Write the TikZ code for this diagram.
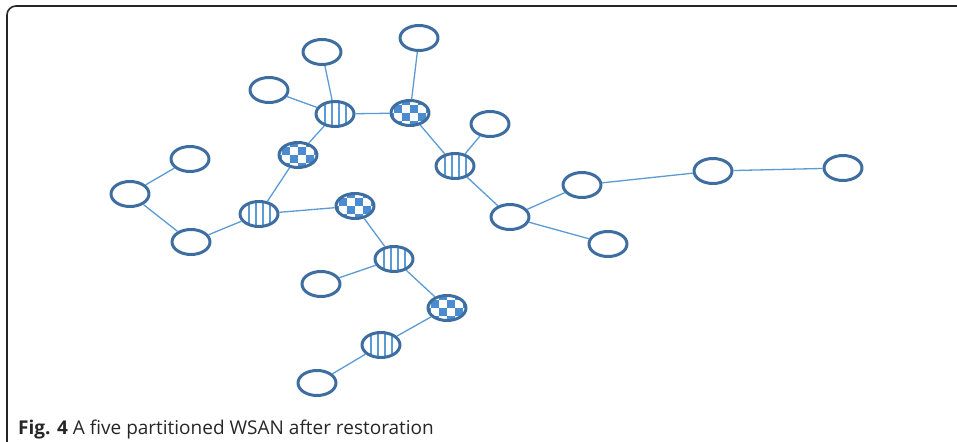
\documentclass[tikz,border=0pt]{standalone}
\usepackage{fontspec}
\setmainfont{Open Sans}
\usepackage{tikz}
\usetikzlibrary{shapes.geometric}
\definecolor{rim}{RGB}{62,110,160}
\definecolor{wire}{RGB}{91,155,213}
\definecolor{tile}{RGB}{75,140,208}
\tikzstyle{plain}=[ellipse,draw=rim,line width=3bp,fill=white,minimum width=38bp,minimum height=25bp,inner sep=0pt]
\tikzstyle{striped}=[plain,path picture={
  \foreach \x in {-10.5,-3.5,3.5,10.5}
    \draw[wire,line width=2bp,shift={(path picture bounding box.center)}] (\x bp,-15bp) -- (\x bp,15bp);}]
\tikzstyle{checked}=[plain,path picture={
  \foreach \i in {0,...,5}
    \foreach \j in {0,...,3}{
      \pgfmathparse{int(mod(\i+\j,2))}
      \ifnum\pgfmathresult=1
        \fill[tile,shift={(path picture bounding box.center)}] (-24bp+8*\i bp,-16bp+8*\j bp) rectangle ++(8bp,8bp);
      \fi}}]
\tikzstyle{link}=[draw=wire,line width=1.3bp]

\begin{document}
\begin{tikzpicture}[line join=bevel]
	\useasboundingbox (0,0) rectangle (957bp,442bp);
	%% frame
	\draw[line width=1.6bp,draw=black!85,rounded corners=9bp] (7bp,0bp) -- (7bp,436bp) -- (957bp,436bp);
	%% nodes
	\node (t1) at (322bp,390bp) [plain] {};
	\node (t2) at (419bp,404bp) [plain] {};
	\node (t3) at (269bp,352bp) [plain] {};
	\node (s1) at (335bp,328bp) [striped] {};
	\node (c1) at (410bp,329bp) [checked] {};
	\node (t4) at (490bp,318bp) [plain] {};
	\node (c2) at (298bp,287bp) [checked] {};
	\node (s2) at (455bp,276bp) [striped] {};
	\node (t5) at (190bp,283bp) [plain] {};
	\node (t6) at (130bp,248bp) [plain] {};
	\node (t7) at (582bp,257bp) [plain] {};
	\node (t8) at (713bp,271bp) [plain] {};
	\node (t9) at (843bp,274bp) [plain] {};
	\node (s3) at (259bp,228bp) [striped] {};
	\node (c3) at (355bp,236bp) [checked] {};
	\node (t10) at (510bp,225bp) [plain] {};
	\node (t11) at (191bp,200bp) [plain] {};
	\node (t12) at (608bp,198bp) [plain] {};
	\node (s4) at (394bp,183bp) [striped] {};
	\node (t13) at (321bp,158bp) [plain] {};
	\node (c4) at (447bp,134bp) [checked] {};
	\node (s5) at (381bp,97bp) [striped] {};
	\node (t14) at (317bp,59bp) [plain] {};
	%% links
	\draw [link] (t1) -- (s1);
	\draw [link] (t3) -- (s1);
	\draw [link] (s1) -- (c1);
	\draw [link] (t2) -- (c1);
	\draw [link] (c1) -- (s2);
	\draw [link] (s2) -- (t4);
	\draw [link] (s2) -- (t10);
	\draw [link] (t10) -- (t7);
	\draw [link] (t10) -- (t12);
	\draw [link] (t7) -- (t8);
	\draw [link] (t8) -- (t9);
	\draw [link] (s1) -- (c2);
	\draw [link] (c2) -- (s3);
	\draw [link] (s3) -- (t11);
	\draw [link] (t11) -- (t6);
	\draw [link] (t6) -- (t5);
	\draw [link] (s3) -- (c3);
	\draw [link] (c3) -- (s4);
	\draw [link] (s4) -- (t13);
	\draw [link] (s4) -- (c4);
	\draw [link] (c4) -- (s5);
	\draw [link] (s5) -- (t14);
	%% caption
	\node (cap) at (18bp,8bp) [anchor=base west,inner sep=0pt,font=\fontsize{19bp}{22bp}\selectfont,text=black!85] {\textbf{Fig. 4} A five partitioned WSAN after restoration};
\end{tikzpicture}
\end{document}
